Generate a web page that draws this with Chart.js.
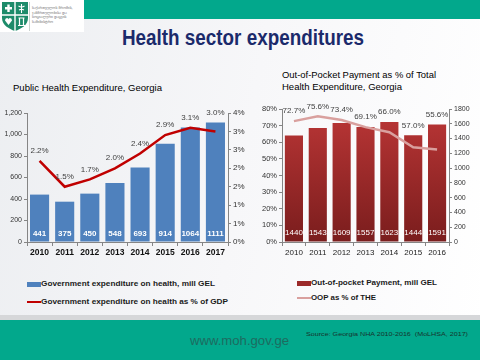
<!DOCTYPE html>
<html lang="en">
<head>
<meta charset="UTF-8">
<title>Health sector expenditures</title>
<script src="https://cdn.jsdelivr.net/npm/chart.js@4"></script>
<style>
    body { margin: 0; }
    #slide {
        position: relative; width: 480px; height: 360px; overflow: hidden;
        background: linear-gradient(100deg, #eceef1 0%, #f7f7f9 50%, #ffffff 100%);
        font-family: "Liberation Sans", Arial, sans-serif;
    }
    .abs { position: absolute; white-space: nowrap; }
    .fit { transform-origin: 0 50%; display: inline-block; }
    .legend { font-size: 7.5px; font-weight: bold; color: #1a1a1a; }
    .swatch { position: absolute; }
</style>
</head>
<body>
<div id="slide">
    <!-- header -->
    <div class="abs" style="left:84px;top:0;width:396px;height:19px;background:#02a88c;"></div>
    <div class="abs" style="left:0;top:0;width:84px;height:32px;background:#ffffff;"></div>
    <svg class="abs" style="left:1px;top:1px;" width="28" height="31" viewBox="0 0 28 31">
        <path d="M1 1 H27 V17 C27 24 20 28 14 30 C8 28 1 24 1 17 Z" fill="#1d8b6a"/>
        <path d="M14 1 V30 M1 14 H27" stroke="#ffffff" stroke-width="1.4"/>
        <path d="M7.5 3.5 V11 M4 7.2 H11" stroke="#ffffff" stroke-width="2.4"/>
        <path d="M20.5 3 V12 M17.5 5 Q20.5 7 23.5 5 M18 9 Q20.5 7.5 23 9" stroke="#ffffff" stroke-width="1.1" fill="none"/>
        <path d="M7.5 24 L4 19.5 Q4 17 6 17 Q7.5 17 7.5 18.5 Q7.5 17 9 17 Q11 17 11 19.5 Z" fill="#ffffff"/>
        <path d="M17.5 17 H23.5 M18.5 17 V24 M22.5 17 V24 M17 24.5 H24" stroke="#ffffff" stroke-width="1.2"/>
    </svg>
    <div class="abs" style="left:29px;top:2px;width:1px;height:29px;background:#c9d3cf;"></div>
    <div class="abs" style="left:32px;top:6px;font-family:'DejaVu Sans';font-size:3.6px;line-height:4.6px;color:#6b6b6b;">
        საქართველოს შრომის,<br>ჯანმრთელობისა და<br>სოციალური დაცვის<br>სამინისტრო
    </div>

    <!-- titles -->
    <div class="abs" style="left:122px;top:26px;height:24px;line-height:24px;">
        <span class="fit" data-w="242" style="font-size:22px;font-weight:bold;color:#1b2a6b;">Health sector expenditures</span>
    </div>
    <div class="abs" style="left:13px;top:80px;height:12px;line-height:12px;">
        <span class="fit" data-w="149" style="font-size:9.5px;color:#000;">Public Health Expenditure, Georgia</span>
    </div>
    <div class="abs" style="left:282px;top:67px;height:12px;line-height:12px;">
        <span class="fit" data-w="154" style="font-size:9.5px;color:#000;">Out-of-Pocket Payment as % of Total</span>
    </div>
    <div class="abs" style="left:282px;top:79px;height:12px;line-height:12px;">
        <span class="fit" data-w="120" style="font-size:9.5px;color:#000;">Health Expenditure, Georgia</span>
    </div>

    <!-- charts -->
    <canvas id="leftChart" class="abs" style="left:0;top:100px;" width="250" height="160"></canvas>
    <canvas id="rightChart" class="abs" style="left:250px;top:100px;" width="230" height="160"></canvas>

    <!-- legends -->
    <div class="swatch" style="left:27px;top:282px;width:14px;height:5px;background:#4f81bd;"></div>
    <div class="abs legend" style="left:41px;top:279px;height:10px;line-height:10px;">
        <span class="fit" data-w="174">Government expenditure on health, mill GEL</span>
    </div>
    <div class="swatch" style="left:27px;top:301px;width:14px;height:2px;background:#c00000;"></div>
    <div class="abs legend" style="left:41px;top:297px;height:10px;line-height:10px;">
        <span class="fit" data-w="187">Government expenditure on health as % of GDP</span>
    </div>
    <div class="swatch" style="left:297px;top:281px;width:14px;height:5px;background:#9b2a2a;"></div>
    <div class="abs legend" style="left:311px;top:278px;height:10px;line-height:10px;">
        <span class="fit" data-w="126">Out-of-pocket Payment, mill GEL</span>
    </div>
    <div class="swatch" style="left:297px;top:297px;width:14px;height:2px;background:#d9a09e;"></div>
    <div class="abs legend" style="left:311px;top:293px;height:10px;line-height:10px;">
        <span class="fit" data-w="65">OOP as % of THE</span>
    </div>

    <!-- footer -->
    <div class="abs" style="left:0;top:315px;width:480px;height:5px;background:#d6d7d9;"></div>
    <div class="abs" style="left:0;top:320px;width:480px;height:40px;background:#02a88c;"></div>
    <div class="abs" style="left:306px;top:326px;height:9px;line-height:9px;">
        <span class="fit" data-w="162" style="font-size:6px;color:#17332d;">Source: Georgia NHA 2010-2016&nbsp; (MoLHSA, 2017)</span>
    </div>
    <div class="abs" style="left:190px;top:332px;height:15px;line-height:15px;">
        <span class="fit" data-w="99" style="font-size:13px;color:#1e6b60;">www.moh.gov.ge</span>
    </div>
</div>

<script>
    // Left chart data
    const govYears = ['2010', '2011', '2012', '2013', '2014', '2015', '2016', '2017'];
    const govSpend = [441, 375, 450, 548, 693, 914, 1064, 1111];
    const govShareGdp = [2.2, 1.5, 1.7, 2.0, 2.4, 2.9, 3.1, 3.0];

    // Right chart data
    const oopYears = ['2010', '2011', '2012', '2013', '2014', '2015', '2016'];
    const oopSpend = [1440, 1543, 1609, 1557, 1623, 1444, 1591];
    const oopShareThe = [72.7, 75.6, 73.4, 69.1, 66.0, 57.0, 55.6];

    // stretch/squeeze text to the width used on the slide
    document.querySelectorAll('.fit').forEach(el => {
        const w = el.getBoundingClientRect().width;
        el.style.transform = 'scaleX(' + (parseFloat(el.dataset.w) / w) + ')';
    });

    Chart.defaults.font.family = '"Liberation Sans", Arial, sans-serif';

    // labels: bar values at the base, line values above the point
    const valueLabels = {
        id: 'valueLabels',
        afterDatasetsDraw(chart, args, opts) {
            const ctx = chart.ctx;
            const lineMeta = chart.getDatasetMeta(0);
            const barMeta = chart.getDatasetMeta(1);
            const bottom = chart.chartArea.bottom;
            ctx.save();
            ctx.textAlign = 'center';
            ctx.textBaseline = 'middle';
            barMeta.data.forEach((bar, i) => {
                ctx.font = opts.barFont;
                ctx.fillStyle = '#ffffff';
                ctx.fillText(chart.data.datasets[1].data[i], bar.x, bottom - opts.barOffset);
            });
            lineMeta.data.forEach((pt, i) => {
                const top = Math.min(pt.y, barMeta.data[i].y);
                ctx.font = opts.lineFont;
                ctx.fillStyle = '#404040';
                ctx.fillText(chart.data.datasets[0].data[i].toFixed(1) + '%', pt.x, top - 10);
            });
            ctx.restore();
        }
    };

    const axisColor = '#858585';

    function axisGrid(len) {
        return { drawOnChartArea: false, drawTicks: true, tickLength: len, color: axisColor };
    }

    new Chart(document.getElementById('leftChart'), {
        type: 'bar',
        data: {
            labels: govYears,
            datasets: [{
                type: 'line',
                data: govShareGdp,
                yAxisID: 'y1',
                borderColor: '#c00000',
                borderWidth: 2.5,
                pointRadius: 0,
                tension: 0
            }, {
                data: govSpend,
                yAxisID: 'y',
                backgroundColor: '#4f81bd',
                barPercentage: 0.76,
                categoryPercentage: 1
            }]
        },
        options: {
            responsive: false,
            animation: false,
            layout: { padding: { top: 13 } },
            plugins: {
                legend: { display: false },
                tooltip: { enabled: false },
                valueLabels: { barFont: 'bold 8px "Liberation Sans", Arial', lineFont: '8px "Liberation Sans", Arial', barOffset: 8 }
            },
            scales: {
                x: {
                    grid: axisGrid(4),
                    border: { color: axisColor },
                    ticks: { color: '#111', font: { size: 8.5, weight: 'bold' }, padding: 2 },
                    afterFit: s => { s.height = 18; }
                },
                y: {
                    position: 'left',
                    min: 0, max: 1200,
                    grid: axisGrid(3),
                    border: { color: axisColor },
                    ticks: { stepSize: 200, color: '#333', font: { size: 7 }, padding: 2,
                        callback: v => v.toLocaleString('en-US') },
                    afterFit: s => { s.width = 27; }
                },
                y1: {
                    position: 'right',
                    min: 0, max: 3.5,
                    grid: axisGrid(3),
                    border: { color: axisColor },
                    ticks: { stepSize: 0.5, color: '#333', font: { size: 8 }, padding: 2,
                        callback: v => Math.round(v) + '%' },
                    afterFit: s => { s.width = 22; }
                }
            }
        },
        plugins: [valueLabels]
    });

    function redGradient(context) {
        const area = context.chart.chartArea;
        if (!area) return '#9b2a2a';
        const g = context.chart.ctx.createLinearGradient(0, area.bottom, 0, area.top);
        g.addColorStop(0, '#7a1d1d');
        g.addColorStop(1, '#bb3636');
        return g;
    }

    new Chart(document.getElementById('rightChart'), {
        type: 'bar',
        data: {
            labels: oopYears,
            datasets: [{
                type: 'line',
                data: oopShareThe,
                yAxisID: 'y',
                borderColor: '#d9a09e',
                borderWidth: 2.5,
                pointRadius: 0,
                tension: 0
            }, {
                data: oopSpend,
                yAxisID: 'y1',
                backgroundColor: redGradient,
                barPercentage: 0.76,
                categoryPercentage: 1
            }]
        },
        options: {
            responsive: false,
            animation: false,
            layout: { padding: { top: 9 } },
            plugins: {
                legend: { display: false },
                tooltip: { enabled: false },
                valueLabels: { barFont: '8px "Liberation Sans", Arial', lineFont: '8px "Liberation Sans", Arial', barOffset: 9 }
            },
            scales: {
                x: {
                    grid: axisGrid(4),
                    border: { color: axisColor },
                    ticks: { color: '#222', font: { size: 8 }, padding: 2 },
                    afterFit: s => { s.height = 18; }
                },
                y: {
                    position: 'left',
                    min: 0, max: 80,
                    grid: axisGrid(3),
                    border: { color: axisColor },
                    ticks: { stepSize: 10, color: '#333', font: { size: 7.5 }, padding: 2,
                        callback: v => v + '%' },
                    afterFit: s => { s.width = 32; }
                },
                y1: {
                    position: 'right',
                    min: 0, max: 1800,
                    grid: axisGrid(3),
                    border: { color: axisColor },
                    ticks: { stepSize: 200, color: '#333', font: { size: 7 }, padding: 2,
                        callback: v => String(v) },
                    afterFit: s => { s.width = 31; }
                }
            }
        },
        plugins: [valueLabels]
    });
</script>
</body>
</html>
